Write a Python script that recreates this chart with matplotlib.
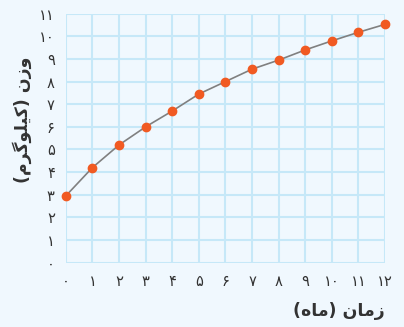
import matplotlib
matplotlib.use("Agg")
import matplotlib.pyplot as plt

# data
months = [0, 1, 2, 3, 4, 5, 6, 7, 8, 9, 10, 11, 12]
weights = [2.95, 4.2, 5.2, 6.0, 6.7, 7.45, 8.0, 8.55, 8.95, 9.4, 9.8, 10.18, 10.53]
fa_digits = ["۰", "۱", "۲", "۳", "۴", "۵", "۶", "۷", "۸", "۹", "۱۰", "۱۱", "۱۲"]
x_ticks = list(range(0, 13))
y_ticks = list(range(0, 12))

# matplotlib has no arabic shaping / bidi, so labels are written with
# presentation forms in visual order
x_label = "(\uFEE9\uFE8E\uFEE3) \uFEE5\uFE8E\uFEE3\uFEAF"      # زمان (ماه)
y_label = "(\uFEE1\uFEAE\uFB94\uFEEE\uFEE0\uFBFF\uFB90) \uFEE5\uFEAF\uFEED"  # وزن (کیلوگرم)

bg = "#f0f8fe"
grid_c = "#c6e8f8"
dot_c = "#f15a22"
line_c = "#808080"
txt_c = "#333333"

plt.rcParams["font.family"] = ["DejaVu Sans"]

fig = plt.figure(figsize=(4.04, 3.27), dpi=100, facecolor=bg)
ax = fig.add_axes([0.163, 0.197, 0.790, 0.761])
ax.set_facecolor(bg)

ax.plot(months, weights, color=line_c, lw=1.2, zorder=3, clip_on=False)
ax.plot(months, weights, "o", color=dot_c, ms=6, zorder=4, clip_on=False)

ax.set_xlim(0, 12)
ax.set_ylim(0, 11)
ax.set_xticks(x_ticks)
ax.set_xticklabels(fa_digits[:13])
ax.set_yticks(y_ticks)
ax.set_yticklabels(fa_digits[:12])
ax.grid(True, color=grid_c, lw=1.5)
ax.set_axisbelow(True)
ax.tick_params(length=0, labelsize=10.5, colors=txt_c)
ax.tick_params(axis="x", pad=8)
ax.tick_params(axis="y", pad=8)
for s in ax.spines.values():
    s.set_visible(False)

fig.text(0.953, 0.05, x_label, ha="right", va="center", fontsize=12.5,
         fontweight="bold", color=txt_c)
fig.text(0.055, 0.635, y_label, ha="center", va="center", rotation=90,
         fontsize=12.5, fontweight="bold", color=txt_c)

fig.savefig("out.png", dpi=100, facecolor=bg)
